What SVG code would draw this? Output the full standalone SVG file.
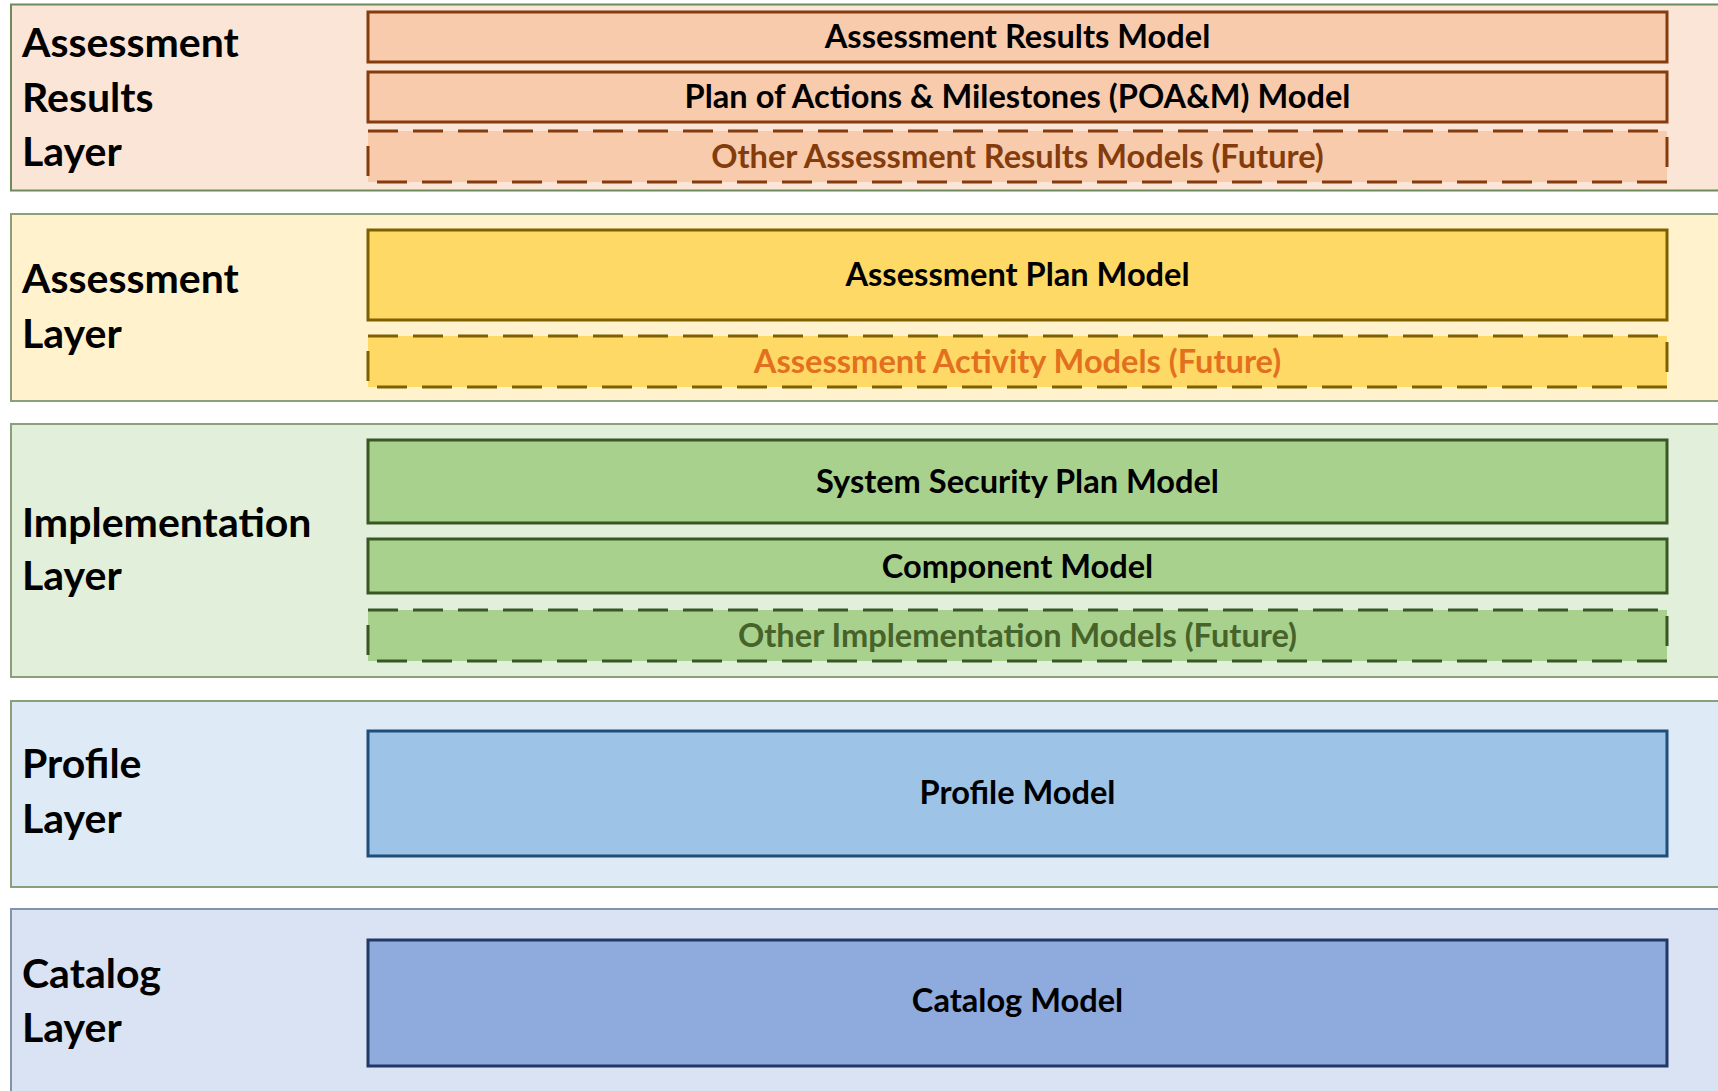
<svg xmlns="http://www.w3.org/2000/svg" width="1718" height="1091" viewBox="0 0 1718 1091">
  <style>
    .layer { stroke-width: 2; }
    .model { stroke-width: 3; }
    .future { stroke-width: 3; stroke-dasharray: 30 15; }
    .lbl { font-family: Lato, "Open Sans", "Liberation Sans", sans-serif; font-weight: 700; font-size: 41px; fill: #000; }
    .mtxt { font-family: Lato, "Open Sans", "Liberation Sans", sans-serif; font-weight: 700; font-size: 32.6px; fill: #000; text-anchor: middle; }
  </style>
  <rect width="1718" height="1091" fill="#ffffff"/>

  <!-- Assessment Results layer -->
  <g id="assessment-results-layer">
    <rect class="layer" x="11" y="4.5" width="1720" height="186" fill="#fbe5d6" stroke="#6f8a5c"/>
    <text class="lbl" x="22" y="57">Assessment</text>
    <text class="lbl" x="22" y="112">Results</text>
    <text class="lbl" x="22" y="166">Layer</text>
  </g>
  <g id="assessment-results-model">
    <rect class="model" x="368" y="12" width="1299" height="50" fill="#f8cbad" stroke="#843c0c"/>
    <text class="mtxt" x="1017.5" y="48">Assessment Results Model</text>
  </g>
  <g id="poam-model">
    <rect class="model" x="368" y="72" width="1299" height="50" fill="#f8cbad" stroke="#843c0c"/>
    <text class="mtxt" x="1017.5" y="108">Plan of Actions &amp; Milestones (POA&amp;M) Model</text>
  </g>
  <g id="other-assessment-results-models">
    <rect class="future" x="368" y="131" width="1299" height="51" fill="#f8cbad" stroke="#843c0c"/>
    <text class="mtxt" x="1017.5" y="168" style="fill:#843c0c">Other Assessment Results Models (Future)</text>
  </g>

  <!-- Assessment layer -->
  <g id="assessment-layer">
    <rect class="layer" x="11" y="214" width="1720" height="187" fill="#fff2cc" stroke="#8aa07a"/>
    <text class="lbl" x="22" y="293">Assessment</text>
    <text class="lbl" x="22" y="348">Layer</text>
  </g>
  <g id="assessment-plan-model">
    <rect class="model" x="368" y="230" width="1299" height="90" fill="#ffd966" stroke="#7f6000"/>
    <text class="mtxt" x="1017.5" y="286">Assessment Plan Model</text>
  </g>
  <g id="assessment-activity-models">
    <rect class="future" x="368" y="336" width="1299" height="51" fill="#ffd966" stroke="#7f6000"/>
    <text class="mtxt" x="1017.5" y="373" style="fill:#e2701e">Assessment Activity Models (Future)</text>
  </g>

  <!-- Implementation layer -->
  <g id="implementation-layer">
    <rect class="layer" x="11" y="424" width="1720" height="253" fill="#e2efda" stroke="#8aa07a"/>
    <text class="lbl" x="22" y="537">Implementation</text>
    <text class="lbl" x="22" y="590">Layer</text>
  </g>
  <g id="ssp-model">
    <rect class="model" x="368" y="440" width="1299" height="83" fill="#a9d18e" stroke="#385723"/>
    <text class="mtxt" x="1017.5" y="493">System Security Plan Model</text>
  </g>
  <g id="component-model">
    <rect class="model" x="368" y="539" width="1299" height="54" fill="#a9d18e" stroke="#385723"/>
    <text class="mtxt" x="1017.5" y="578">Component Model</text>
  </g>
  <g id="other-implementation-models">
    <rect class="future" x="368" y="610" width="1299" height="51" fill="#a9d18e" stroke="#385723"/>
    <text class="mtxt" x="1017.5" y="647" style="fill:#46632a">Other Implementation Models (Future)</text>
  </g>

  <!-- Profile layer -->
  <g id="profile-layer">
    <rect class="layer" x="11" y="701" width="1720" height="186" fill="#deebf7" stroke="#8aa07a"/>
    <text class="lbl" x="22" y="778">Profile</text>
    <text class="lbl" x="22" y="833">Layer</text>
  </g>
  <g id="profile-model">
    <rect class="model" x="368" y="731" width="1299" height="125" fill="#9dc3e6" stroke="#1f4e79"/>
    <text class="mtxt" x="1017.5" y="804">Profile Model</text>
  </g>

  <!-- Catalog layer -->
  <g id="catalog-layer">
    <rect class="layer" x="11" y="909" width="1720" height="200" fill="#dae3f3" stroke="#8193ad"/>
    <text class="lbl" x="22" y="988">Catalog</text>
    <text class="lbl" x="22" y="1042">Layer</text>
  </g>
  <g id="catalog-model">
    <rect class="model" x="368" y="940" width="1299" height="126" fill="#8faadc" stroke="#203864"/>
    <text class="mtxt" x="1017.5" y="1012">Catalog Model</text>
  </g>

  <!-- layers are stacked; no connectors are drawn -->
  <g id="connectors"/>
</svg>
